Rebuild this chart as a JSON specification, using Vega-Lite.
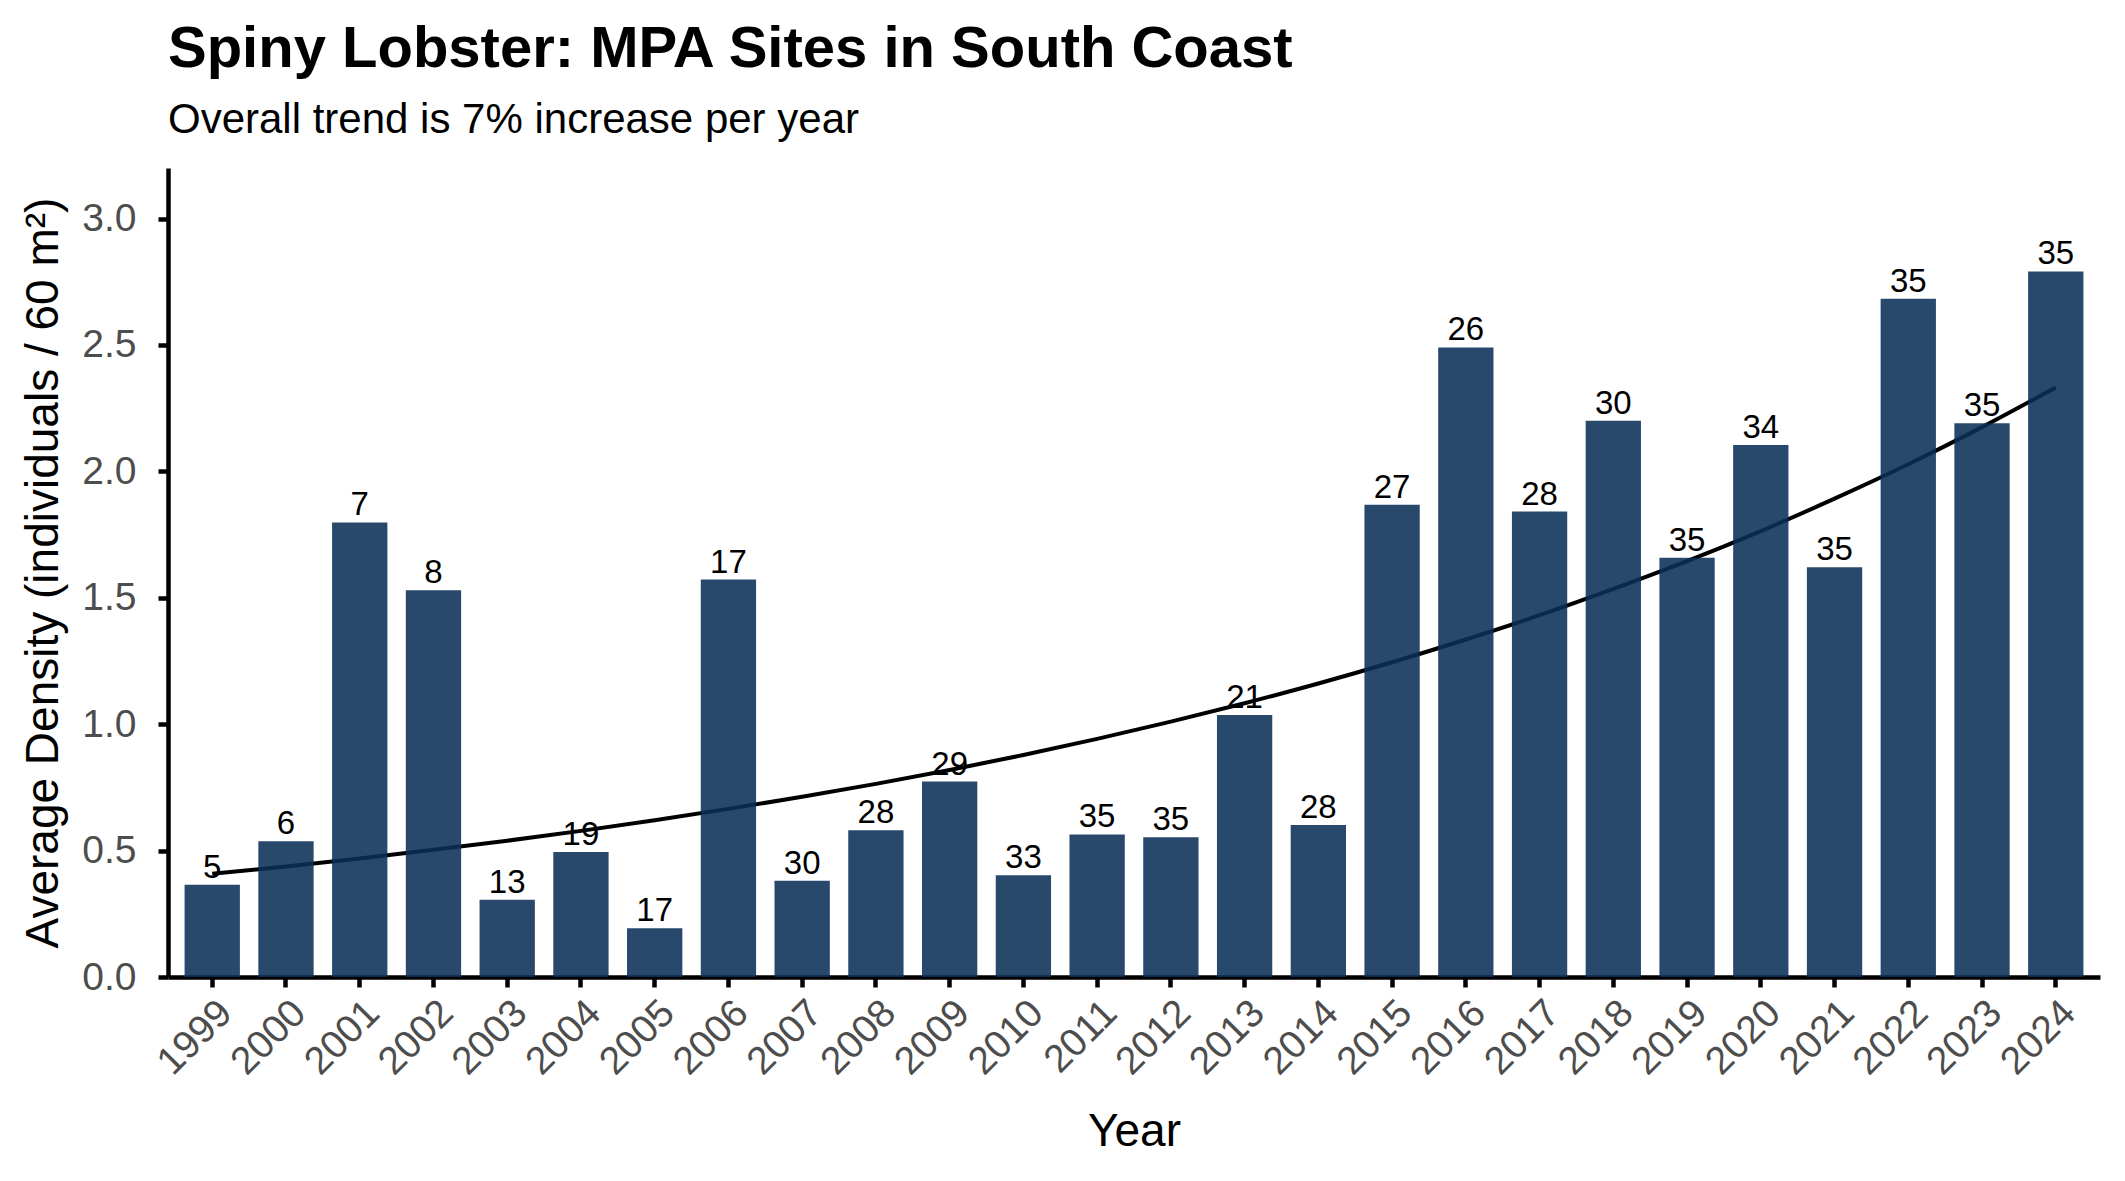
{
  "$schema": "https://vega.github.io/schema/vega-lite/v6.json",
  "autosize": {"type": "none"},
  "width": 1932,
  "height": 809,
  "padding": {"left": 168, "top": 168, "right": 25, "bottom": 204},
  "background": "white",
  "title": {
    "text": "Spiny Lobster: MPA Sites in South Coast",
    "subtitle": "Overall trend is 7% increase per year",
    "anchor": "start",
    "frame": "group",
    "font": "Liberation Sans",
    "fontSize": 58,
    "fontWeight": "bold",
    "color": "black",
    "subtitleFont": "Liberation Sans",
    "subtitleFontSize": 42,
    "subtitleColor": "black",
    "subtitlePadding": 21,
    "offset": 27
  },
  "config": {
    "view": {"stroke": null},
    "axis": {
      "grid": false,
      "domainColor": "black",
      "domainWidth": 4.5,
      "tickColor": "black",
      "tickWidth": 4.5,
      "tickSize": 10,
      "labelFont": "Liberation Sans",
      "labelFontSize": 39,
      "labelColor": "#4D4D4D",
      "titleFont": "Liberation Sans",
      "titleFontSize": 46,
      "titleFontWeight": "normal",
      "titleColor": "black"
    }
  },
  "data": {
    "values": [
      {"year": "1999", "density": 0.365, "sites": 5, "trend": 0.408},
      {"year": "2000", "density": 0.537, "sites": 6, "trend": 0.437},
      {"year": "2001", "density": 1.798, "sites": 7, "trend": 0.469},
      {"year": "2002", "density": 1.530, "sites": 8, "trend": 0.503},
      {"year": "2003", "density": 0.306, "sites": 13, "trend": 0.539},
      {"year": "2004", "density": 0.494, "sites": 19, "trend": 0.578},
      {"year": "2005", "density": 0.193, "sites": 17, "trend": 0.620},
      {"year": "2006", "density": 1.572, "sites": 17, "trend": 0.665},
      {"year": "2007", "density": 0.381, "sites": 30, "trend": 0.713},
      {"year": "2008", "density": 0.580, "sites": 28, "trend": 0.764},
      {"year": "2009", "density": 0.773, "sites": 29, "trend": 0.819},
      {"year": "2010", "density": 0.402, "sites": 33, "trend": 0.878},
      {"year": "2011", "density": 0.564, "sites": 35, "trend": 0.942},
      {"year": "2012", "density": 0.553, "sites": 35, "trend": 1.010},
      {"year": "2013", "density": 1.036, "sites": 21, "trend": 1.083},
      {"year": "2014", "density": 0.601, "sites": 28, "trend": 1.161},
      {"year": "2015", "density": 1.868, "sites": 27, "trend": 1.245},
      {"year": "2016", "density": 2.490, "sites": 26, "trend": 1.335},
      {"year": "2017", "density": 1.841, "sites": 28, "trend": 1.431},
      {"year": "2018", "density": 2.200, "sites": 30, "trend": 1.535},
      {"year": "2019", "density": 1.658, "sites": 35, "trend": 1.645},
      {"year": "2020", "density": 2.104, "sites": 34, "trend": 1.764},
      {"year": "2021", "density": 1.621, "sites": 35, "trend": 1.892},
      {"year": "2022", "density": 2.683, "sites": 35, "trend": 2.028},
      {"year": "2023", "density": 2.190, "sites": 35, "trend": 2.175},
      {"year": "2024", "density": 2.791, "sites": 35, "trend": 2.332}
    ]
  },
  "encoding": {
    "x": {
      "field": "year",
      "type": "ordinal",
      "title": "Year",
      "scale": {"paddingInner": 0.25, "paddingOuter": 0.225},
      "axis": {"labelAngle": -45, "labelPadding": 6, "titlePadding": 28}
    },
    "y": {
      "field": "density",
      "type": "quantitative",
      "title": "Average Density (individuals / 60 m²)",
      "scale": {"domain": [0, 3.2], "nice": false, "zero": true},
      "axis": {
        "values": [0, 0.5, 1, 1.5, 2, 2.5, 3],
        "format": ".1f",
        "labelPadding": 22,
        "titlePadding": 14
      }
    }
  },
  "layer": [
    {
      "mark": {"type": "line", "color": "black", "strokeWidth": 4, "interpolate": "monotone"},
      "encoding": {
        "y": {
          "field": "trend",
          "type": "quantitative",
          "title": "Average Density (individuals / 60 m²)"
        }
      }
    },
    {
      "mark": {"type": "bar", "fill": "#0A3058", "opacity": 0.88}
    },
    {
      "mark": {
        "type": "text",
        "font": "Liberation Sans",
        "fontSize": 33,
        "color": "black",
        "baseline": "alphabetic",
        "dy": -7
      },
      "encoding": {"text": {"field": "sites", "type": "quantitative"}}
    }
  ]
}
